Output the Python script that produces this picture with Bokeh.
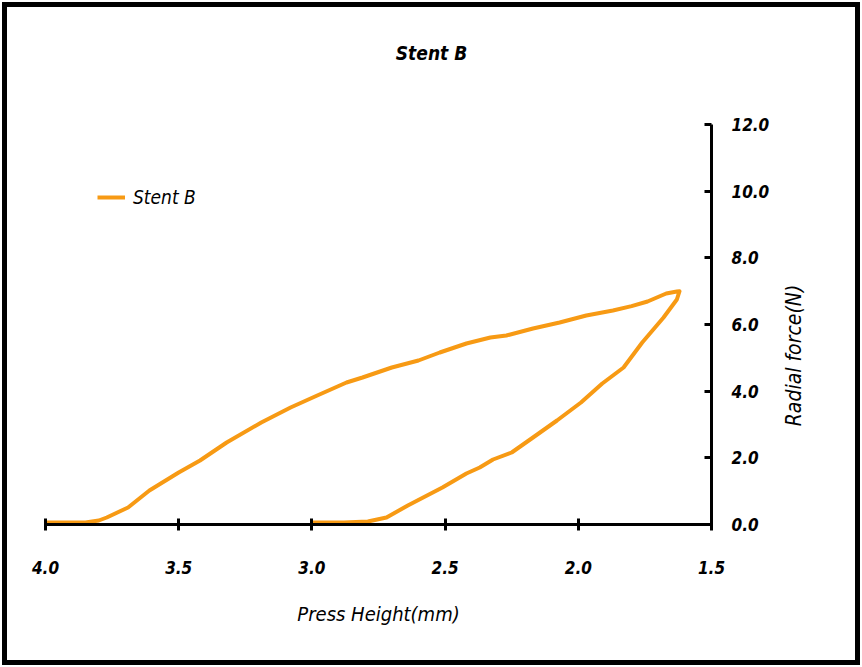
import math
from bokeh.plotting import figure
from bokeh.layouts import column
from bokeh.models import (Range1d, LinearAxis, FixedTicker, NumeralTickFormatter, Legend,
                          LegendItem, Label)
from bokeh.embed import file_html
from bokeh.resources import INLINE

# Data (press height in mm, radial force in N)
press_height = [4.00, 3.85, 3.80, 3.77, 3.69, 3.61, 3.50, 3.42, 3.32, 3.19, 3.08, 2.98,
                2.87, 2.81, 2.70, 2.60, 2.52, 2.42, 2.33, 2.27, 2.17, 2.07, 1.97, 1.87,
                1.80, 1.74, 1.67, 1.63, 1.62, 1.63, 1.68, 1.76, 1.83, 1.91, 1.99, 2.08,
                2.17, 2.25, 2.32, 2.37, 2.42, 2.51, 2.64, 2.72, 2.79, 2.88, 3.00]
radial_force = [0.06, 0.06, 0.12, 0.21, 0.51, 1.02, 1.56, 1.92, 2.46, 3.06, 3.51, 3.87,
                4.26, 4.41, 4.71, 4.92, 5.16, 5.43, 5.61, 5.67, 5.88, 6.06, 6.27, 6.42,
                6.55, 6.69, 6.93, 6.99, 7.00, 6.75, 6.21, 5.46, 4.71, 4.23, 3.66, 3.12,
                2.61, 2.16, 1.95, 1.71, 1.53, 1.11, 0.57, 0.21, 0.09, 0.06, 0.06]
x_ticks = [4.0, 3.5, 3.0, 2.5, 2.0, 1.5]
y_ticks = [0, 2, 4, 6, 8, 10, 12]
series_name = "Stent B"
chart_title = "Stent B"
x_title = "Press Height(mm)"
y_title = "Radial force(N)"

FONT = "DejaVu Sans Condensed, Liberation Sans, sans-serif"
ORANGE = "#F79A14"

p = figure(width=848, height=653, output_backend="svg", toolbar_location=None,
           x_range=Range1d(4.0, 1.5), y_range=Range1d(0, 12),
           x_axis_location=None, y_axis_location=None,
           min_border_left=38, min_border_right=144, min_border_top=117, min_border_bottom=136)
p.outline_line_color = None
p.xgrid.visible = False
p.ygrid.visible = False
p.background_fill_color = "white"
p.border_fill_color = "white"

xaxis = LinearAxis(ticker=FixedTicker(ticks=x_ticks), formatter=NumeralTickFormatter(format="0.0"),
                   axis_label=x_title)
yaxis = LinearAxis(ticker=FixedTicker(ticks=y_ticks), formatter=NumeralTickFormatter(format="0.0"))
for ax in (xaxis, yaxis):
    ax.axis_line_width = 3
    ax.major_tick_line_width = 3
    ax.minor_tick_line_color = None
    ax.major_label_text_font = FONT
    ax.major_label_text_font_style = "bold italic"
    ax.major_label_text_font_size = "17px"
    ax.major_label_text_color = "black"
    ax.axis_label_text_font = FONT
    ax.axis_label_text_font_style = "italic"
    ax.axis_label_text_font_size = "20px"
    ax.axis_label_text_color = "black"
xaxis.major_tick_in = 6
xaxis.major_tick_out = 6
xaxis.major_label_standoff = 30
xaxis.axis_label_standoff = 25
yaxis.major_tick_in = 7
yaxis.major_tick_out = 0
yaxis.major_label_standoff = 20
p.add_layout(xaxis, "below")
p.add_layout(yaxis, "right")

# chart title and y-axis title as labels in the side panels (not clipped to the frame)
title_label = Label(x=386, y=72, x_units="screen", y_units="screen", text=chart_title,
                    text_align="center", text_baseline="middle", text_font=FONT,
                    text_font_style="bold italic", text_font_size="19px", text_color="black")
p.add_layout(title_label, "above")
ylab = Label(x=21, y=169, x_units="screen", y_units="screen", text=y_title, angle=math.pi / 2,
             text_align="center", text_baseline="middle", text_font=FONT,
             text_font_style="italic", text_font_size="21px", text_color="black")
p.add_layout(ylab, "right")

r = p.line(press_height, radial_force, line_color=ORANGE, line_width=4, line_join="round")

legend = Legend(items=[LegendItem(label=series_name, renderers=[r])], location=(52, 316),
                border_line_color=None, background_fill_alpha=0, padding=0, margin=0,
                glyph_width=28, glyph_height=20, label_standoff=8,
                label_text_font=FONT, label_text_font_style="italic", label_text_font_size="19px",
                label_text_color="black")
p.add_layout(legend)

layout = column(p, styles={"border": "5px solid black", "margin": "2px", "background": "white"})

open("out.html", "w").write(file_html(layout, INLINE))
